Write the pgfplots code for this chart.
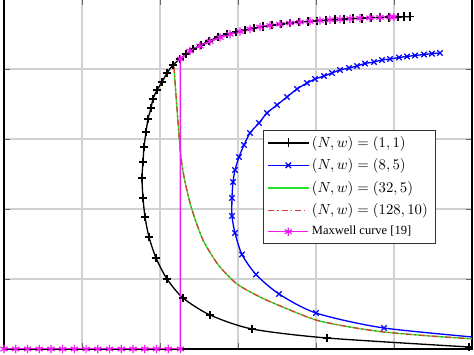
\documentclass[border=0pt]{standalone}
\usepackage{pgfplots}
\pgfplotsset{compat=1.18}
\usepackage{fontspec}
\newfontfamily\timesfont{Liberation Serif}
\definecolor{mygreen}{rgb}{0.15,0.9,0.15}
\definecolor{myred}{rgb}{0.85,0.25,0.2}
\definecolor{mymagenta}{rgb}{0.95,0.1,0.95}
\begin{document}
\begin{tikzpicture}
\useasboundingbox (-2.72pt,-4.08pt) rectangle (319.6pt,237.32pt);
\clip (-2.72pt,-4.08pt) rectangle (319.6pt,237.32pt);
\begin{axis}[
  at={(0pt,0pt)}, anchor=south west,
  scale only axis, width=318.24pt, height=238pt,
  xmin=0, xmax=6, ymin=0, ymax=5,
  xtick={0,1,2,3,4,5,6}, ytick={0,1,2,3,4,5},
  xticklabels={}, yticklabels={},
  grid=major, major grid style={black!18, line width=0.7pt},
  axis line style={black, line width=0.9pt},
  major tick style={black!60, line width=0.6pt},
  major tick length=4pt,
  legend style={at={(0.553,0.626)}, anchor=north west, legend cell align=left,
    draw=black!80, line width=0.6pt, font=\normalsize, row sep=2.3pt},
  legend image code/.code={\draw[mark repeat=2,mark phase=2] plot coordinates {(0pt,0pt) (13.5pt,0pt) (27pt,0pt)};},
]
% (N,w)=(1,1)
\addplot[black, line width=0.9pt, mark=+, mark size=3pt, mark options={solid}, smooth, tension=0.45] coordinates {
(5.962,0.029) (4.141,0.157) (3.179,0.286) (2.641,0.486) (2.295,0.729) (2.090,1.000)
(1.949,1.300) (1.859,1.600) (1.808,1.886) (1.782,2.157) (1.769,2.443)
(1.782,2.671) (1.795,2.886) (1.821,3.100) (1.846,3.286) (1.885,3.443) (1.910,3.571)
(1.962,3.700) (2.026,3.814) (2.090,3.943) (2.167,4.057) (2.256,4.143) (2.333,4.214)
(2.423,4.286) (2.526,4.343) (2.628,4.400) (2.744,4.457) (2.859,4.500) (2.974,4.529)
(3.090,4.557) (3.205,4.586) (3.321,4.607) (3.436,4.629) (3.551,4.643) (3.667,4.657)
(3.782,4.671) (3.897,4.679) (4.013,4.686) (4.128,4.696) (4.244,4.704) (4.359,4.713)
(4.474,4.720) (4.590,4.727) (4.705,4.733) (4.821,4.737) (4.936,4.741) (5.051,4.744)
(5.128,4.746) (5.205,4.747)
};
\addlegendentry{$(N,w)=(1,1)$}
% (N,w)=(8,5)
\addplot[blue, line width=0.9pt, mark=x, mark size=2.6pt, mark options={solid}, smooth, tension=0.45] coordinates {
(6.359,0.136) (4.872,0.300) (4.000,0.514) (3.526,0.786) (3.231,1.064) (3.051,1.350)
(2.962,1.657) (2.923,1.900) (2.923,2.157) (2.936,2.386) (2.962,2.557) (3.013,2.743)
(3.077,2.914) (3.154,3.086) (3.269,3.229) (3.372,3.371) (3.500,3.486) (3.628,3.600)
(3.756,3.714) (3.885,3.800) (3.987,3.857) (4.103,3.900) (4.205,3.943) (4.308,3.986)
(4.423,4.014) (4.526,4.043) (4.628,4.079) (4.744,4.100) (4.846,4.129) (4.949,4.143)
(5.064,4.164) (5.167,4.179) (5.269,4.193) (5.385,4.207) (5.487,4.219) (5.590,4.229)
};
\addlegendentry{$(N,w)=(8,5)$}
% (N,w)=(32,5)
\addplot[mygreen, line width=0.9pt, smooth, tension=0.45] coordinates {
(2.179,4.029) (2.205,3.629) (2.231,3.243) (2.256,2.886) (2.282,2.629) (2.321,2.386)
(2.385,2.086) (2.462,1.814) (2.551,1.557) (2.654,1.357) (2.769,1.171) (2.987,0.929)
(3.282,0.743) (3.603,0.586) (4.000,0.414) (4.436,0.314) (4.872,0.243) (5.462,0.186)
(6.038,0.143)
};
\addlegendentry{$(N,w)=(32,5)$}
% (N,w)=(128,10)
\addplot[myred, line width=0.9pt, dash pattern=on 4pt off 2pt on 1pt off 2pt, smooth, tension=0.45] coordinates {
(2.179,4.029) (2.205,3.629) (2.231,3.243) (2.256,2.886) (2.282,2.629) (2.321,2.386)
(2.385,2.086) (2.462,1.814) (2.551,1.557) (2.654,1.357) (2.769,1.171) (2.987,0.929)
(3.282,0.743) (3.603,0.586) (4.000,0.414) (4.436,0.314) (4.872,0.243) (5.462,0.186)
(6.038,0.143)
};
\addlegendentry{$(N,w)=(128,10)$}
% Maxwell curve
\addplot[mymagenta, line width=1.1pt, mark=asterisk, mark size=2.8pt, mark options={solid, line width=0.8pt}] coordinates {
(0.000,0) (0.150,0) (0.301,0) (0.451,0) (0.602,0) (0.752,0) (0.902,0) (1.053,0)
(1.203,0) (1.354,0) (1.504,0) (1.654,0) (1.805,0) (1.955,0) (2.106,0) (2.262,0)
(2.262,4.143) (2.385,4.257) (2.513,4.329) (2.641,4.393) (2.769,4.450) (2.897,4.496)
(3.026,4.536) (3.154,4.571) (3.282,4.600) (3.410,4.621) (3.538,4.640) (3.667,4.657)
(3.795,4.671) (3.923,4.681) (4.051,4.691) (4.179,4.701) (4.308,4.710) (4.436,4.719)
(4.564,4.726) (4.692,4.731) (4.821,4.737) (4.949,4.741) (5.000,4.743)
};
\addlegendentry{{\timesfont\fontsize{8.5}{10}\selectfont Maxwell curve [19]}}
\end{axis}
\end{tikzpicture}
\end{document}
